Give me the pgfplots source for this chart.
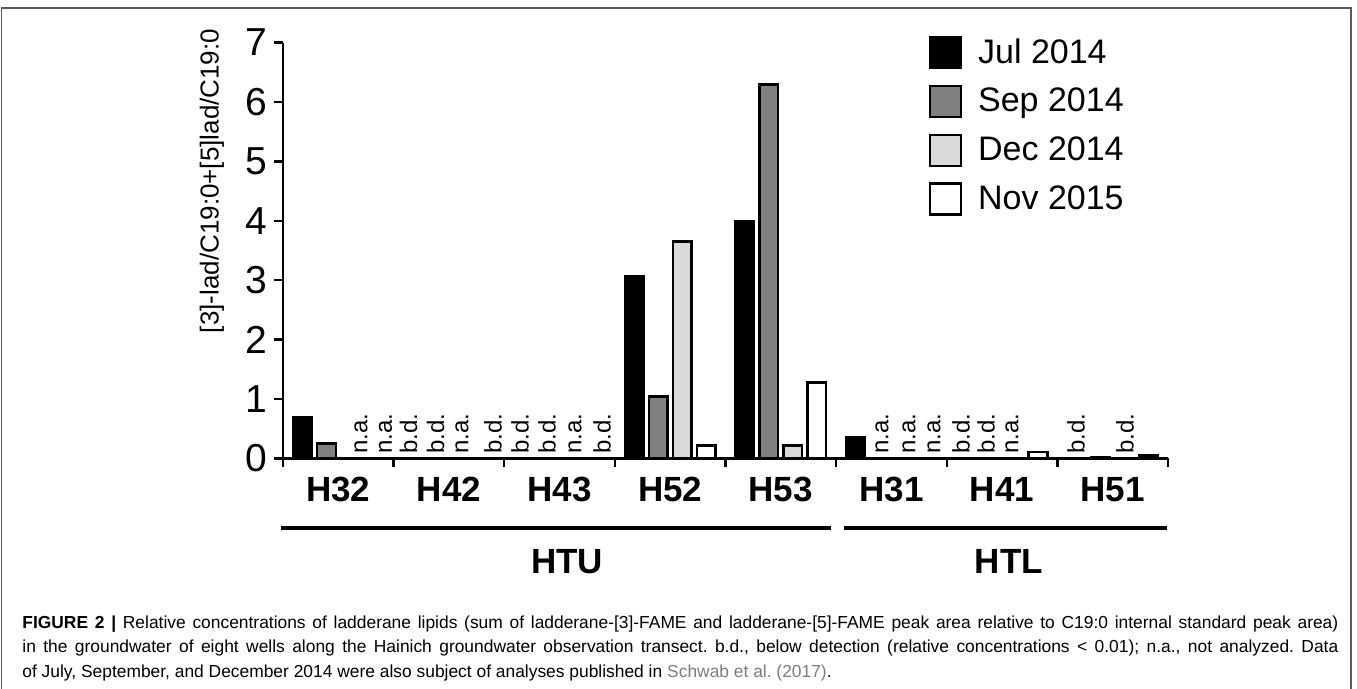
\documentclass[border=0pt]{standalone}
\usepackage{fontspec}
\setmainfont{Liberation Sans}
\usepackage{pgfplots}
\usepackage{pgfplotstable}
\pgfplotsset{compat=1.18}

% well index: 0 H32, 1 H42, 2 H43, 3 H52, 4 H53, 5 H31, 6 H41, 7 H51
\pgfplotstableread{
well val
0 0.69
3 3.06
4 3.99
5 0.35
}\tabJul
\pgfplotstableread{
well val
0 0.25
3 1.04
4 6.29
7 0.02
}\tabSep
\pgfplotstableread{
well val
3 3.65
4 0.22
}\tabDec
\pgfplotstableread{
well val
3 0.22
4 1.28
6 0.11
7 0.05
}\tabNov

\definecolor{sepgray}{RGB}{128,128,128}
\definecolor{decgray}{RGB}{217,217,217}
\definecolor{capgray}{RGB}{125,125,125}
\definecolor{framegray}{RGB}{90,90,90}

\begin{document}
\begin{tikzpicture}[x=0.5pt,y=-0.5pt,
  lab/.style={rotate=90, anchor=west, inner sep=0pt, font=\fontsize{12}{13}\selectfont}]
\useasboundingbox (0,0) rectangle (1357,689);
\draw[framegray, line width=0.8pt] (1.5,689) -- (1.5,8) -- (1351,8) -- (1351,689);

\begin{axis}[
  at={(141.5pt,-229.25pt)}, anchor=south west,
  scale only axis, width=442.5pt, height=208pt,
  xmin=-0.5, xmax=7.5, ymin=0, ymax=7,
  axis x line=bottom, axis y line=left,
  axis line style={-, line width=1.2pt},
  ybar, bar width=0.17,
  every axis plot post/.append style={
    legend image code/.code={\draw[##1, line width=1.2pt] (0pt,-7.8pt) rectangle (15.6pt,7.8pt);}},
  tick align=outside,
  tick style={black, line width=1.2pt},
  major tick length=4.5pt,
  ytick={0,...,7},
  xtick={-0.5,0.5,...,7.5},
  x tick label as interval,
  xticklabels={H32,H42,H43,H52,H53,H31,H41,H51},
  /pgf/number format/assume math mode=true,
  yticklabel style={font=\fontsize{19.5}{22}\selectfont},
  xticklabel style={font=\bfseries\fontsize{17.5}{20}\selectfont, anchor=north,
    text height=12.6pt, text depth=0pt, inner sep=0pt, yshift=-4pt},
  legend style={at={(rel axis cs:0.729,1.02)}, anchor=north west, draw=none, fill=none,
    inner sep=0pt, row sep=7pt, column sep=6pt, font=\fontsize{17}{19}\selectfont,
    nodes={inner sep=2pt}, cells={anchor=west}},
  clip=false,
]
\addplot[fill=black, draw=black, line width=1.2pt, bar shift=-0.325] table[x=well,y=val]{\tabJul};
\addplot[fill=sepgray, draw=black, line width=1.2pt, bar shift=-0.108] table[x=well,y=val]{\tabSep};
\addplot[fill=decgray, draw=black, line width=1.2pt, bar shift=0.108] table[x=well,y=val]{\tabDec};
\addplot[fill=white, draw=black, line width=1.2pt, bar shift=0.325] table[x=well,y=val]{\tabNov};
\legend{Jul 2014, Sep 2014, Dec 2014, Nov 2015}

% n.a. = not analyzed, b.d. = below detection
\node[lab] at (axis cs:0.205,0.076) {n.a.};
\node[lab] at (axis cs:0.427,0.076) {n.a.};
\node[lab] at (axis cs:0.634,0.076) {b.d.};
\node[lab] at (axis cs:0.879,0.076) {b.d.};
\node[lab] at (axis cs:1.118,0.076) {n.a.};
\node[lab] at (axis cs:1.398,0.076) {b.d.};
\node[lab] at (axis cs:1.642,0.076) {b.d.};
\node[lab] at (axis cs:1.886,0.076) {b.d.};
\node[lab] at (axis cs:2.140,0.076) {n.a.};
\node[lab] at (axis cs:2.384,0.076) {b.d.};
\node[lab] at (axis cs:4.915,0.076) {n.a.};
\node[lab] at (axis cs:5.159,0.076) {n.a.};
\node[lab] at (axis cs:5.385,0.076) {n.a.};
\node[lab] at (axis cs:5.629,0.076) {b.d.};
\node[lab] at (axis cs:5.855,0.076) {b.d.};
\node[lab] at (axis cs:6.090,0.076) {n.a.};
\node[lab] at (axis cs:6.668,0.076) {b.d.};
\node[lab] at (axis cs:7.111,0.076) {b.d.};
\end{axis}

\node[rotate=90, font=\fontsize{13}{15}\selectfont] at (212,181) {[3]-lad/C19:0+[5]lad/C19:0};

\draw[line width=2.4pt] (281,528) -- (831,528);
\draw[line width=2.4pt] (844,528) -- (1167,528);
\node[anchor=base, font=\bfseries\fontsize{17.5}{20}\selectfont] at (567,573.5) {HTU};
\node[anchor=base, font=\bfseries\fontsize{17.5}{20}\selectfont] at (1009,573.5) {HTL};

\node[anchor=north west, inner sep=0pt, text width=658pt, align=justify,
  font=\fontsize{8.7}{12.25}\selectfont] at (22,615)
  {\frenchspacing\tolerance=10000\hbadness=10000\hyphenpenalty=10000\exhyphenpenalty=10000
  {\bfseries FIGURE 2 |} Relative concentrations of ladderane lipids (sum of ladderane-[3]-FAME and ladderane-[5]-FAME peak area relative to C19:0 internal standard peak area)\linebreak
  in the groundwater of eight wells along the Hainich groundwater observation transect. b.d., below detection (relative concentrations < 0.01); n.a., not analyzed. Data\linebreak
  of July, September, and December 2014 were also subject of analyses published in {\color{capgray}Schwab et al. (2017)}.};
\end{tikzpicture}
\end{document}
